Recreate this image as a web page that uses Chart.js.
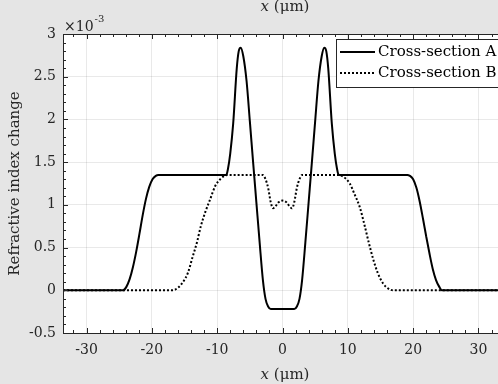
<!DOCTYPE html>
<html>
<head>
<meta charset="utf-8">
<script src="https://cdn.jsdelivr.net/npm/chart.js@4.4.0/dist/chart.umd.min.js"></script>
<style>
    html, body { margin: 0; padding: 0; overflow: hidden; background: #e5e5e5; }
    #wrap { position: relative; width: 505px; height: 384px; }
</style>
</head>
<body>
<div id="wrap"><canvas id="profileChart" width="505" height="384"></canvas></div>
<script>
// tick labels
const xTicks = [-30, -20, -10, 0, 10, 20, 30];
const yTicks = [-0.5, 0, 0.5, 1, 1.5, 2, 2.5, 3];

// Cross-section A (values x 1e-3)
const xA = [-33.6, -24.4, -23.9, -23.4, -22.9, -22.4, -21.9, -21.4, -20.9, -20.4, -19.9, -19.4, -19.0,
    -8.6, -8.35, -8.0, -7.55, -7.0, -6.7, -6.4, -6.0, -5.5, -5.0, -4.5, -4.0, -3.5, -3.0, -2.6, -2.2, -1.8,
    1.8, 2.2, 2.6, 3.0, 3.5, 4.0, 4.5, 5.0, 5.5, 6.0, 6.4, 6.7, 7.0, 7.55, 8.0, 8.35, 8.6,
    19.1, 19.5, 20.0, 20.5, 21.0, 21.5, 22.0, 22.5, 23.0, 23.5, 24.0, 24.4, 33.6];
const yA = [0, 0, 0.04, 0.13, 0.27, 0.45, 0.66, 0.88, 1.07, 1.21, 1.3, 1.34, 1.35,
    1.35, 1.42, 1.6, 1.95, 2.6, 2.8, 2.84, 2.74, 2.45, 1.98, 1.5, 1.03, 0.56, 0.12, -0.1, -0.19, -0.22,
    -0.22, -0.19, -0.1, 0.12, 0.56, 1.03, 1.5, 1.98, 2.45, 2.74, 2.84, 2.8, 2.6, 1.95, 1.6, 1.42, 1.35,
    1.35, 1.34, 1.3, 1.2, 1.04, 0.84, 0.63, 0.43, 0.25, 0.12, 0.04, 0, 0];

// Cross-section B (values x 1e-3)
const xB = [-33.6, -16.8, -16.0, -15.2, -14.5, -13.8, -13.1, -12.5, -11.8, -11.1, -10.3, -9.4, -8.4,
    -3.0, -2.6, -2.2, -1.8, -1.45, -1.1, -0.6, 0, 0.6, 1.1, 1.45, 1.8, 2.2, 2.6, 3.0,
    8.3, 9.3, 10.3, 11.0, 11.8, 12.5, 13.2, 13.9, 14.6, 15.4, 16.2, 16.9, 33.6];
const yB = [0, 0, 0.03, 0.1, 0.2, 0.38, 0.56, 0.75, 0.92, 1.06, 1.22, 1.31, 1.35,
    1.35, 1.3, 1.2, 1.03, 0.96, 0.98, 1.03, 1.05, 1.03, 0.98, 0.96, 1.03, 1.2, 1.3, 1.35,
    1.35, 1.33, 1.25, 1.13, 0.98, 0.78, 0.56, 0.36, 0.2, 0.08, 0.02, 0, 0];

const serif = '"DejaVu Serif", "Liberation Serif", serif';
const axisColor = "#262626";

function toPoints(xs, ys) {
    return xs.map((x, i) => ({ x: x, y: ys[i] }));
}

// background, frame, inward ticks, labels, legend
const matlabFrame = {
    id: "matlabFrame",
    beforeDraw(chart) {
        const c = chart.ctx, a = chart.chartArea;
        c.save();
        c.fillStyle = "#e5e5e5";
        c.fillRect(0, 0, chart.width, chart.height);
        c.fillStyle = "#ffffff";
        c.fillRect(a.left, a.top, a.right - a.left, a.bottom - a.top);
        c.restore();
    },
    afterDraw(chart) {
        const c = chart.ctx, a = chart.chartArea;
        const sx = chart.scales.x, sy = chart.scales.y;
        c.save();
        c.strokeStyle = axisColor;
        c.lineWidth = 1;
        c.strokeRect(a.left + 0.5, a.top + 0.5, a.right - a.left, a.bottom - a.top);

        c.beginPath();
        for (let v = -32; v <= 32; v += 2) {
            const px = Math.round(sx.getPixelForValue(v)) + 0.5;
            const len = v % 10 === 0 ? 5 : 3;
            c.moveTo(px, a.bottom); c.lineTo(px, a.bottom - len);
            c.moveTo(px, a.top); c.lineTo(px, a.top + len);
        }
        for (let k = -5; k <= 30; k++) {
            const py = Math.round(sy.getPixelForValue(k / 10)) + 0.5;
            const len = k % 5 === 0 ? 5 : 3;
            c.moveTo(a.left, py); c.lineTo(a.left + len, py);
        }
        c.stroke();

        // axis titles
        c.fillStyle = axisColor;
        c.textBaseline = "middle";
        const drawXLabel = (cx, cy) => {
            c.font = "italic 15px " + serif;
            const w1 = c.measureText("x").width;
            c.font = "15px " + serif;
            const w2 = c.measureText(" (\u03bcm)").width;
            const x0 = cx - (w1 + w2) / 2;
            c.textAlign = "left";
            c.font = "italic 15px " + serif;
            c.fillText("x", x0, cy);
            c.font = "15px " + serif;
            c.fillText(" (\u03bcm)", x0 + w1, cy);
        };
        drawXLabel(285, 375);
        drawXLabel(285, 7);

        c.save();
        c.translate(15, (a.top + a.bottom) / 2);
        c.rotate(-Math.PI / 2);
        c.textAlign = "center";
        c.font = "15px " + serif;
        c.fillText("Refractive index change", 0, 0);
        c.restore();

        // exponent
        c.textAlign = "left";
        c.textBaseline = "alphabetic";
        c.font = "14px " + serif;
        c.fillText("\u00d710", 64, 31);
        const ew = c.measureText("\u00d710").width;
        c.font = "10px " + serif;
        c.fillText("-3", 64 + ew + 1, 22);

        // legend
        const lx = 336, ly = 39, lw = 165, lh = 48;
        c.fillStyle = "#ffffff";
        c.fillRect(lx, ly, lw, lh);
        c.strokeStyle = "#262626";
        c.strokeRect(lx + 0.5, ly + 0.5, lw, lh);
        chart.data.datasets.forEach((ds, i) => {
            const yy = ly + 13 + i * 21;
            c.beginPath();
            c.strokeStyle = ds.borderColor;
            c.lineWidth = ds.borderWidth;
            c.setLineDash(ds.borderDash || []);
            c.moveTo(340, yy);
            c.lineTo(375, yy);
            c.stroke();
            c.setLineDash([]);
            c.fillStyle = "#000000";
            c.font = "15px " + serif;
            c.textBaseline = "middle";
            c.fillText(ds.label, 378, yy);
        });
        c.restore();
    }
};

new Chart(document.getElementById("profileChart"), {
    type: "scatter",
    data: {
        datasets: [
            {
                label: "Cross-section A",
                data: toPoints(xA, yA),
                showLine: true,
                borderColor: "#000000",
                borderWidth: 2,
                pointRadius: 0,
                cubicInterpolationMode: "monotone",
            },
            {
                label: "Cross-section B",
                data: toPoints(xB, yB),
                showLine: true,
                borderColor: "#000000",
                borderWidth: 2,
                borderDash: [2, 2],
                pointRadius: 0,
                cubicInterpolationMode: "monotone",
            },
        ],
    },
    options: {
        responsive: false,
        animation: false,
        layout: { padding: { top: 34, right: 3, left: 0, bottom: 0 } },
        plugins: {
            legend: { display: false },
            tooltip: { enabled: false },
        },
        scales: {
            x: {
                type: "linear",
                min: -33.6,
                max: 33.6,
                afterBuildTicks: (s) => { s.ticks = xTicks.map((v) => ({ value: v })); },
                afterFit: (s) => { s.height = 51; },
                grid: { color: "rgba(38,38,38,0.1)", drawTicks: false },
                border: { display: false },
                ticks: { color: axisColor, padding: 9, maxRotation: 0, font: { family: serif, size: 14 } },
            },
            y: {
                type: "linear",
                min: -0.5,
                max: 3,
                afterBuildTicks: (s) => { s.ticks = yTicks.map((v) => ({ value: v })); },
                afterFit: (s) => { s.width = 63; },
                grid: { color: "rgba(38,38,38,0.1)", drawTicks: false },
                border: { display: false },
                ticks: {
                    color: axisColor,
                    padding: 7,
                    font: { family: serif, size: 14 },
                    callback: (v) => String(v),
                },
            },
        },
    },
    plugins: [matlabFrame],
});
</script>
</body>
</html>
